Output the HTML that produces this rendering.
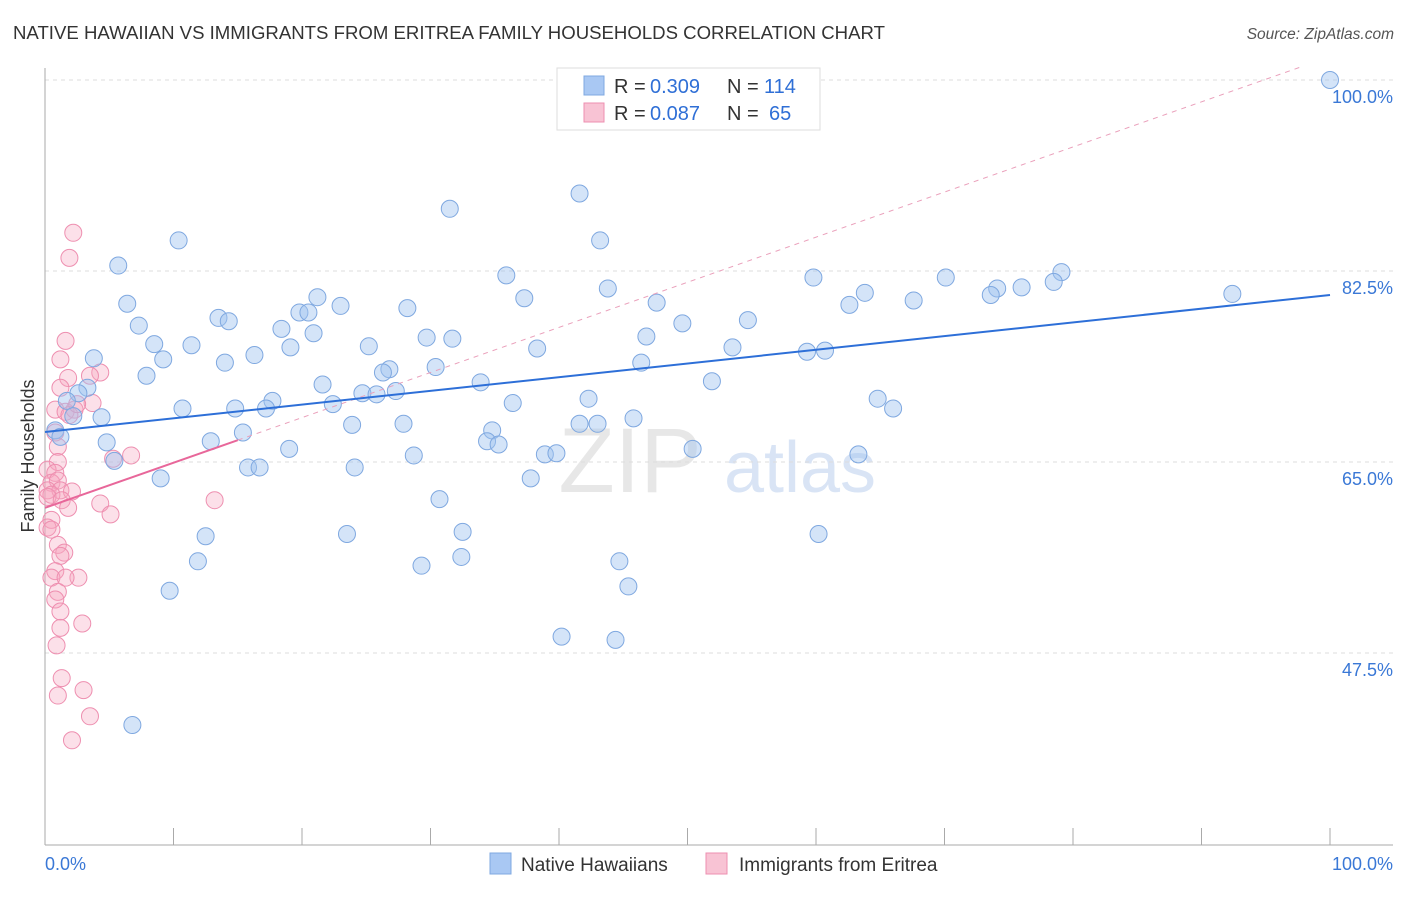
<!DOCTYPE html>
<html><head><meta charset="utf-8"><style>
body{margin:0;background:#fff;font-family:"Liberation Sans",sans-serif;}
svg text{font-family:"Liberation Sans",sans-serif;}
</style></head><body>
<svg id="chart" width="1406" height="892" xmlns="http://www.w3.org/2000/svg">
<text x="13" y="39" font-size="18.6" fill="#333">NATIVE HAWAIIAN VS IMMIGRANTS FROM ERITREA FAMILY HOUSEHOLDS CORRELATION CHART</text>
<text x="1394" y="39" font-size="15.5" fill="#555" font-style="italic" text-anchor="end">Source: ZipAtlas.com</text>
<text transform="translate(34,456) rotate(-90)" font-size="18" fill="#333" text-anchor="middle">Family Households</text>
<g>
<text x="630" y="492" font-size="92" fill="#ddd" font-family="Liberation Serif" text-anchor="middle" opacity="0.7">ZIP</text>
<text x="800" y="492" font-size="72" fill="#c9daf2" text-anchor="middle" opacity="0.7">atlas</text>
</g>
<g id="grid"></g>
<g id="axes"></g>
<g id="lines"></g>
<g id="points"></g>
<g>
<rect x="557" y="68" width="263" height="62" fill="#fff" stroke="#ddd"/>
<rect x="584" y="76" width="20" height="19" fill="#a9c8f3" stroke="#7fa8e0"/>
<rect x="584" y="103" width="20" height="19" fill="#f8c3d4" stroke="#ee8fb0"/>
<text x="614" y="93" font-size="20" fill="#333">R =</text>
<text x="650" y="93" font-size="20" fill="#2f6fd6">0.309</text>
<text x="727" y="93" font-size="20" fill="#333">N =</text>
<text x="764" y="93" font-size="20" fill="#2f6fd6">114</text>
<text x="614" y="120" font-size="20" fill="#333">R =</text>
<text x="650" y="120" font-size="20" fill="#2f6fd6">0.087</text>
<text x="727" y="120" font-size="20" fill="#333">N =</text>
<text x="769" y="120" font-size="20" fill="#2f6fd6">65</text>
</g>
<g>
<rect x="490" y="853" width="21" height="21" fill="#a9c8f3" stroke="#7fa8e0"/>
<text x="521" y="871" font-size="19" fill="#333">Native Hawaiians</text>
<rect x="706" y="853" width="21" height="21" fill="#f8c3d4" stroke="#ee8fb0"/>
<text x="739" y="871" font-size="19" fill="#333">Immigrants from Eritrea</text>
</g>
</svg>
<script>
const yTicks=[47.5,65.0,82.5,100.0];
const yTickLabels=["47.5%","65.0%","82.5%","100.0%"];
const xTickLabels=["0.0%","100.0%"];
const blueX=[100,41.6,31.5,43.2,10.4,5.7,35.9,59.8,70.1,79.1,78.5,76.0,74.1,73.6,43.8,63.8,21.2,37.3,92.4,6.4,23.0,28.2,47.6,62.6,67.6,19.8,20.5,13.5,14.3,7.3,18.4,20.9,49.6,54.7,29.7,31.7,46.8,8.5,11.4,19.1,25.2,38.3,53.5,59.3,60.7,3.8,9.2,16.3,14.0,46.4,30.4,26.8,26.3,7.9,33.9,21.6,51.9,3.3,2.6,24.7,25.8,27.3,1.7,17.7,42.3,64.8,36.4,22.4,10.7,14.8,17.2,66.0,2.2,4.4,45.8,23.9,27.9,41.6,43.0,34.8,0.8,1.2,15.4,12.9,34.4,35.3,4.8,19.0,50.4,28.7,38.9,39.8,63.3,5.4,15.8,16.7,24.1,9.0,37.8,30.7,32.5,12.5,23.5,60.2,11.9,32.4,44.7,29.3,45.4,9.7,40.2,44.4,6.8];
const blueY=[100,89.6,88.2,85.3,85.3,83.0,82.1,81.9,81.9,82.4,81.5,81.0,80.9,80.3,80.9,80.5,80.1,80.0,80.4,79.5,79.3,79.1,79.6,79.4,79.8,78.7,78.7,78.2,77.9,77.5,77.2,76.8,77.7,78.0,76.4,76.3,76.5,75.8,75.7,75.5,75.6,75.4,75.5,75.1,75.2,74.5,74.4,74.8,74.1,74.1,73.7,73.5,73.2,72.9,72.3,72.1,72.4,71.8,71.3,71.3,71.2,71.5,70.6,70.6,70.8,70.8,70.4,70.3,69.9,69.9,69.9,69.9,69.2,69.1,69.0,68.4,68.5,68.5,68.5,67.9,67.9,67.3,67.7,66.9,66.9,66.6,66.8,66.2,66.2,65.6,65.7,65.8,65.7,65.1,64.5,64.5,64.5,63.5,63.5,61.6,58.6,58.2,58.4,58.4,55.9,56.3,55.9,55.5,53.6,53.2,49.0,48.7,40.9];
const pinkX=[2.2,1.9,1.6,1.2,1.8,4.3,3.5,1.2,0.8,1.6,2.3,1.9,3.7,2.5,0.8,1.0,6.7,5.3,1.0,0.2,0.8,0.5,1.0,0.2,1.2,2.1,0.5,0.2,13.2,4.3,1.3,1.8,5.1,0.5,0.2,0.5,1.0,1.5,1.2,0.8,2.6,0.5,1.6,1.0,0.8,1.2,2.9,1.2,0.9,1.3,3.0,1.0,3.5,2.1];
const pinkY=[86.0,83.7,76.1,74.4,72.7,73.2,72.9,71.8,69.8,69.6,69.8,69.3,70.4,70.3,67.7,66.4,65.6,65.3,65.0,64.3,64.0,63.1,63.3,62.4,62.4,62.3,62.0,61.8,61.5,61.2,61.5,60.8,60.2,59.7,59.0,58.8,57.4,56.7,56.4,55.0,54.4,54.4,54.4,53.1,52.4,51.3,50.2,49.8,48.2,45.2,44.1,43.6,41.7,39.5];
const blueLine=[67.75,80.3];   // fitted values at x=0 and x=100
const pinkLine=[60.8,67.0,15]; // value at 0, value at solidEnd, solidEnd x
const pinkDashEnd=97.7;        // x where dashed extension stops
const NS="http://www.w3.org/2000/svg";
const X0=45,X1=1330,Y100=80,PXPER=10.914;
const sx=v=>X0+(X1-X0)*v/100;
const sy=v=>Y100+(100-v)*PXPER;
function mk(tag,attrs,parent){const e=document.createElementNS(NS,tag);for(const k in attrs)e.setAttribute(k,attrs[k]);parent.appendChild(e);return e;}
const grid=document.getElementById('grid'),axes=document.getElementById('axes'),lines=document.getElementById('lines'),pts=document.getElementById('points');
yTicks.forEach((t,i)=>{
  const l=mk('line',{x1:45,x2:1393,y1:sy(t),y2:sy(t),stroke:'#ddd','stroke-dasharray':'4,4'},grid);
  
  
  const tx=mk('text',{x:1393,y:sy(t)+23,'font-size':18,fill:'#3a78d6','text-anchor':'end'},axes);
  tx.textContent=yTickLabels[i];
  
  
});
let a=mk('line',{x1:45,x2:45,y1:68,y2:845,stroke:'#aaa'},axes);


a=mk('line',{x1:45,x2:1393,y1:845,y2:845,stroke:'#aaa'},axes);


for(let i=0;i<=10;i++){
  const t=mk('line',{x1:sx(i*10),x2:sx(i*10),y1:828,y2:845,stroke:'#aaa'},axes);
  
  
}
let xl=mk('text',{x:45,y:870,'font-size':18,fill:'#3a78d6'},axes);xl.textContent=xTickLabels[0];


xl=mk('text',{x:1393,y:870,'font-size':18,fill:'#3a78d6','text-anchor':'end'},axes);xl.textContent=xTickLabels[1];


const ps=(pinkLine[1]-pinkLine[0])/pinkLine[2];
let ln=mk('line',{x1:sx(pinkLine[2]),y1:sy(pinkLine[1]),x2:sx(pinkDashEnd),y2:sy(pinkLine[0]+ps*pinkDashEnd),stroke:'#eaa0bb','stroke-dasharray':'5,5','stroke-width':1},lines);


pinkX.forEach((x,i)=>{
  const c=mk('circle',{cx:sx(x),cy:sy(pinkY[i]),r:8.5,fill:'rgba(245,165,192,0.35)',stroke:'#ee8fb0','stroke-width':1},pts);
  
  
});
blueX.forEach((x,i)=>{
  const c=mk('circle',{cx:sx(x),cy:sy(blueY[i]),r:8.5,fill:'rgba(160,195,240,0.45)',stroke:'#7fa8e0','stroke-width':1},pts);
  
  
});
ln=mk('line',{x1:sx(0),y1:sy(blueLine[0]),x2:sx(100),y2:sy(blueLine[1]),stroke:'#2d6fd8','stroke-width':2},lines);


ln=mk('line',{x1:sx(0),y1:sy(pinkLine[0]),x2:sx(pinkLine[2]),y2:sy(pinkLine[1]),stroke:'#e8679a','stroke-width':2},lines);


document.getElementById('chart').appendChild(lines);
</script>
</body></html>
